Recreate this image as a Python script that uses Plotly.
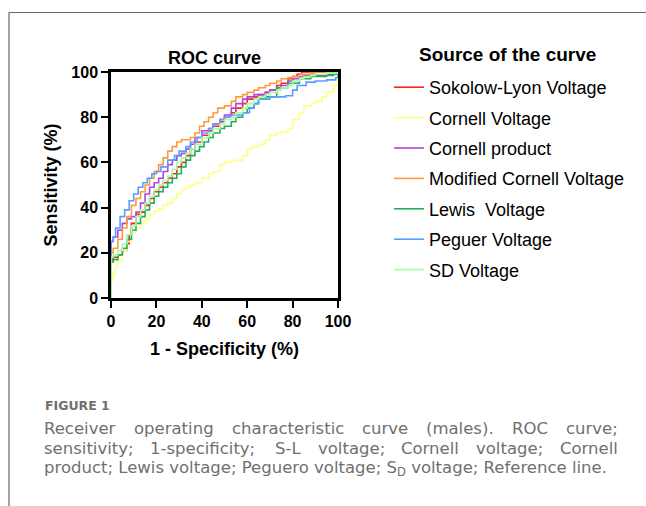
import plotly.graph_objects as go

# ---------------- data ----------------
series_names = ["Sokolow-Lyon Voltage", "Cornell Voltage", "Cornell product",
                "Modified Cornell Voltage", "Lewis  Voltage", "Peguer Voltage", "SD Voltage"]
series_colors = ["#FF2222", "#FFFF88", "#B044E0", "#FF9A3C", "#22B060", "#5A9CFF", "#A0FFA0"]

sl_x = [0, 0, 1, 3, 5, 7, 8, 9, 11, 13, 15, 17, 19, 21, 23, 25, 27, 29, 31, 33, 35, 37, 40, 43, 45, 48, 50,
        53, 55, 58, 60, 63, 65, 68, 70, 73, 75, 78, 80, 82, 84, 90, 95, 100]
sl_y = [0, 17, 18, 19, 21, 24, 28, 33, 37, 38, 41, 44, 47, 49, 51, 53, 55, 58, 60, 63, 66, 69, 72, 74, 76, 78, 80,
        82, 84, 86, 88, 89, 90, 91, 92, 94, 95, 97, 98, 99, 100, 100, 100, 100]

cv_x = [0, 0, 1, 2, 3, 5, 7, 9, 11, 13, 15, 17, 19, 21, 23, 25, 27, 29, 31, 33, 35, 37, 40, 43, 45, 48, 50,
        53, 55, 58, 60, 62, 65, 68, 70, 73, 75, 78, 80, 83, 85, 88, 90, 93, 95, 98, 100]
cv_y = [0, 8, 11, 14, 17, 21, 25, 29, 31, 33, 35, 37, 38.5, 39.5, 41, 42, 44, 46, 48, 49, 50, 51, 53, 55, 56, 59, 60,
        60.5, 61, 63, 66, 67, 68, 70, 72, 73, 73.5, 75, 79, 82, 85, 86, 87, 89, 91, 94, 100]

cp_x = [0, 0, 1, 3, 5, 7, 9, 11, 13, 15, 17, 19, 21, 23, 25, 27, 29, 31, 33, 35, 37, 40, 43, 45, 48, 50,
        53, 55, 58, 60, 63, 65, 68, 70, 73, 75, 78, 80, 83, 85, 88, 90, 95, 100]
cp_y = [0, 25, 27, 30, 33, 35, 36, 38, 42, 46, 49, 51, 53, 56, 59, 61, 63, 64, 66, 68, 71, 74, 75, 77, 79, 81,
        84, 86, 88, 89, 90, 90, 91, 92, 93, 94, 96, 97, 98, 98.5, 98.5, 98.5, 99, 100]

mc_x = [0, 0, 1, 3, 5, 7, 9, 11, 13, 15, 17, 19, 21, 23, 25, 27, 29, 31, 33, 35, 37, 39, 41, 43, 45, 47, 50,
        53, 55, 58, 60, 63, 65, 68, 70, 73, 75, 78, 80, 83, 85, 88, 90, 95, 100]
mc_y = [0, 20, 22, 26, 31, 36, 41, 44, 47, 50, 53, 56, 59, 62, 65, 67, 69, 70, 70, 71, 73, 76, 78, 80, 82, 84, 85,
        87, 89, 90, 91, 92, 93, 94, 95, 96, 97, 97.5, 98, 99, 99, 99.5, 100, 100, 100]

lw_x = [0, 0, 1, 3, 5, 7, 9, 11, 13, 15, 17, 19, 21, 23, 25, 27, 29, 31, 33, 35, 37, 39, 41, 43, 45, 48, 50,
        53, 55, 58, 60, 63, 65, 68, 70, 73, 78, 83, 88, 93, 95, 98, 100]
lw_y = [0, 16, 17, 19, 22, 26, 30, 33, 36, 39, 42, 45, 47, 49, 51, 53, 55, 58, 61, 63, 65, 67, 69, 71, 73, 75, 76,
        78, 80, 82, 84, 86, 88, 89, 89, 93, 95, 97, 98, 98, 98.5, 99, 100]

pg_x = [0, 0, 1, 2, 4, 6, 8, 10, 12, 14, 16, 18, 20, 22, 25, 28, 30, 33, 35, 38, 40, 43, 45, 48, 50,
        53, 55, 58, 61, 63, 65, 70, 74, 77, 80, 82, 86, 90, 95, 99, 100]
pg_y = [0, 25, 27, 31, 36, 39, 43, 46, 49, 51, 53, 55, 56, 58, 61, 63, 65, 67, 69, 71, 73, 75, 77, 79, 80,
        81, 81, 82, 84, 86, 88, 89, 89, 89.5, 92, 94, 95.5, 96, 96.5, 97.5, 100]

sd_x = [0, 0, 1, 3, 5, 7, 9, 11, 13, 15, 17, 19, 21, 23, 25, 27, 29, 31, 33, 35, 37, 40, 43, 45, 48, 50,
        53, 55, 58, 60, 63, 65, 68, 70, 73, 75, 78, 80, 83, 85, 88, 90, 95, 100]
sd_y = [0, 18, 19, 21, 24, 28, 32, 36, 39, 42, 45, 48, 50, 52, 54, 57, 60, 62, 64, 66, 68, 71, 73, 75, 77, 79,
        80, 82, 84, 86, 88, 89, 90, 91, 92, 93, 94, 96, 97, 98, 98.5, 99, 99.5, 100]

series_x = [sl_x, cv_x, cp_x, mc_x, lw_x, pg_x, sd_x]
series_y = [sl_y, cv_y, cp_y, mc_y, lw_y, pg_y, sd_y]

axis_ticks = [0, 20, 40, 60, 80, 100]

legend_title = "Source of the curve"
caption_label = "FIGURE 1"
caption_line1 = ["Receiver", "operating", "characteristic", "curve", "(males).", "ROC", "curve;"]
caption_line2 = ["sensitivity;", "1-specificity;", "S-L", "voltage;", "Cornell", "voltage;", "Cornell"]
caption_line3 = "product; Lewis voltage; Peguero voltage; S<sub>D</sub> voltage; Reference line."

# ---------------- layout helpers ----------------
W, H = 646, 506
PL, PR, PT, PB = 111, 338, 72, 298   # plot area in pixels


def px(p):
    return (p - PL) / (PR - PL)


def py(q):
    return (PB - q) / (PB - PT)


line1_pos = [44, 134, 232, 362, 426, 512, 566]
line2_pos = [44, 150, 275, 317.5, 401, 476, 560]

fig = go.Figure()

for i in range(7):
    fig.add_trace(go.Scatter(
        x=series_x[i], y=series_y[i], mode="lines", name=series_names[i],
        line=dict(color=series_colors[i], width=1.6, shape="hv"),
        legendgroup=str(i), showlegend=True,
    ))

BOLD = dict(family="Liberation Sans, Arial, sans-serif", color="black", weight="bold")

axis_common = dict(
    range=[0, 100], tickvals=axis_ticks, ticktext=[str(t) for t in axis_ticks],
    showline=True, linecolor="black", linewidth=2.5, mirror=True,
    ticks="outside", ticklen=7, tickwidth=2, tickcolor="black",
    showgrid=False, zeroline=False,
    tickfont=dict(size=16, **BOLD),
)

fig.update_layout(
    width=W, height=H,
    margin=dict(l=PL, r=W - PR, t=PT, b=H - PB, pad=0, autoexpand=False),
    paper_bgcolor="white", plot_bgcolor="white",
    title=dict(text="ROC curve", x=px(214.5), xref="paper", xanchor="center",
               y=1 - 58 / H, yref="container", yanchor="middle",
               font=dict(size=18, **BOLD)),
    xaxis=dict(title=dict(text="1 - Specificity (%)", font=dict(size=18, **BOLD), standoff=14), **axis_common),
    yaxis=dict(title=dict(text="Sensitivity (%)", font=dict(size=18, **BOLD), standoff=10), **axis_common),
    legend=dict(
        x=px(389), xanchor="left", y=py(69), yanchor="top",
        font=dict(size=18, family="Liberation Sans, Arial, sans-serif", color="black"),
        tracegroupgap=4.0, bgcolor="rgba(0,0,0,0)", borderwidth=0,
        traceorder="grouped", maxheight=400,
    ),
    showlegend=True,
)

fig.add_annotation(text=legend_title, xref="paper", yref="paper", x=px(507), y=py(54),
                   xanchor="center", yanchor="middle", showarrow=False,
                   font=dict(size=19, **BOLD))

# page frame lines
fig.add_shape(type="line", xref="paper", yref="paper", x0=px(9), x1=px(646), y0=py(12.5), y1=py(12.5),
              line=dict(color="#666666", width=1.2))
fig.add_shape(type="line", xref="paper", yref="paper", x0=px(9), x1=px(9), y0=py(12.5), y1=py(506),
              line=dict(color="#666666", width=1.2))

CAPF = "DejaVu Sans, sans-serif"
CAPC = "#707070"
CAPS = 16.5
fig.add_annotation(text=caption_label, xref="paper", yref="paper", x=px(44), y=py(405.5),
                   xanchor="left", yanchor="middle", showarrow=False, borderpad=0,
                   font=dict(size=12.5, family=CAPF, color=CAPC, weight="bold"))
for words, pos, yc in [(caption_line1, line1_pos, 428.5), (caption_line2, line2_pos, 448.5)]:
    for w, p in zip(words, pos):
        fig.add_annotation(text=w, xref="paper", yref="paper", x=px(p - 1), y=py(yc),
                           xanchor="left", yanchor="middle", showarrow=False, borderpad=0,
                           font=dict(size=CAPS, family=CAPF, color=CAPC))
fig.add_annotation(text=caption_line3, xref="paper", yref="paper", x=px(43), y=py(468.5),
                   xanchor="left", yanchor="middle", showarrow=False, borderpad=0,
                   font=dict(size=CAPS, family=CAPF, color=CAPC))

fig.write_html("out.html", config={"displayModeBar": False},
               post_script="document.body.style.margin='0px';")
